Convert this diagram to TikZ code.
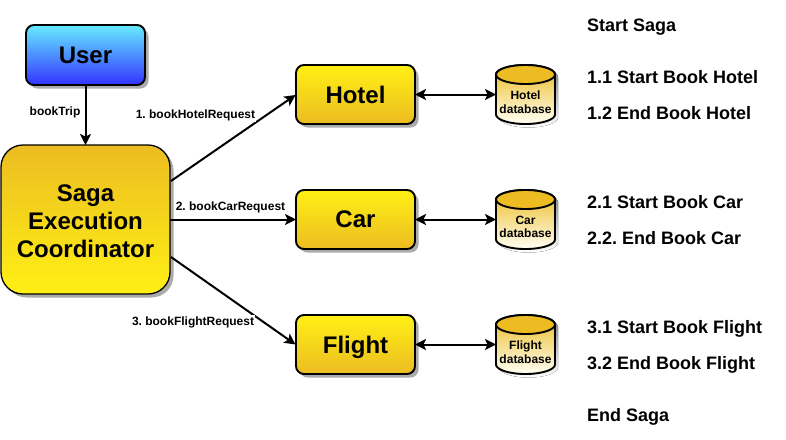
\documentclass[tikz,border=0pt]{standalone}
\usepackage{fontspec}
\setmainfont{Liberation Sans}
\usetikzlibrary{arrows.meta,shadows,calc}
\frenchspacing
\definecolor{gold}{HTML}{ECBC22}
\definecolor{lem}{HTML}{FFF014}
\definecolor{cyantop}{HTML}{66EBFF}
\definecolor{bluebot}{HTML}{3333FF}
\definecolor{cream}{HTML}{FFFEF4}
\definecolor{shade}{HTML}{ABABAB}
\tikzset{
  x=1pt,y=-1pt,
  boxbase/.style={draw=black,line width=1.9pt,outer sep=0pt,rounded corners=8pt,anchor=north west,inner sep=0pt,align=center,
    font=\fontsize{24}{28}\selectfont\bfseries,text=black,
    drop shadow={shadow xshift=3.5pt,shadow yshift=-3.5pt,fill=shade,opacity=1}},
  goldbox/.style={boxbase,top color=lem,bottom color=gold,minimum width=119pt,minimum height=59pt,text depth=0pt},
  userbox/.style={boxbase,top color=cyantop,bottom color=bluebot,minimum width=119pt,minimum height=60pt},
  sagabox/.style={boxbase,line width=1.3pt,rounded corners=22pt,top color=gold,bottom color=lem,minimum width=169pt,minimum height=149pt},
  conn/.style={draw=black,line width=2pt,-{Stealth[length=11pt,width=11pt,inset=2.5pt]}},
  biconn/.style={draw=black,line width=2pt,{Stealth[length=11pt,width=11pt,inset=2.5pt]}-{Stealth[length=11pt,width=11pt,inset=2.5pt]}},
  lab/.style={font=\fontsize{12}{14}\selectfont\bfseries,text=black,inner sep=0pt,fill=white,inner xsep=1pt,inner ysep=1pt},
  dblab/.style={font=\fontsize{12}{14}\selectfont\bfseries,text=black,align=center,inner sep=0pt},
  side/.style={font=\fontsize{18}{20}\selectfont\bfseries,text=black,anchor=base west,inner sep=0pt},
  dbshape/.style={minimum width=59pt,minimum height=59pt,anchor=north west,inner sep=0pt,outer sep=0pt},
}
\newcommand{\dbcyl}[3]{%
  \node[dbshape] (#1) at (496,#2) {};
  \fill[shade] (499,#2+12) arc[x radius=29.5,y radius=10,start angle=180,end angle=360] -- (558,#2+52.5) arc[x radius=29.5,y radius=10,start angle=0,end angle=180] -- cycle;
  \path[top color=gold,bottom color=cream,draw=black,line width=1.9pt]
    (496,#2+9.5) arc[x radius=29.5,y radius=9.5,start angle=180,end angle=360] -- (555,#2+49.5) arc[x radius=29.5,y radius=9.5,start angle=0,end angle=180] -- cycle;
  \path[fill=gold,draw=black,line width=1.9pt] (525.5,#2+9.5) ellipse[x radius=29.5,y radius=9.5];
  \node[dblab] at (525.5,#2+37) {#3\\[-0.5pt]database};
}
\begin{document}
\begin{tikzpicture}
\useasboundingbox (0,0) rectangle (786,439);
\fill[white] (0,0) rectangle (786,439);
\node[userbox] (user) at (26,25) {User};
\node[sagabox] (sec) at (1,145) {\rule{0pt}{21pt}Saga\\Execution\\Coordinator};
\node[goldbox] (hotel) at (296,65) {Hotel};
\node[goldbox] (car) at (296,190) {Car};
\node[goldbox] (flight) at (296,315) {Flight};
\dbcyl{hdb}{65}{Hotel}
\dbcyl{cdb}{190}{Car}
\dbcyl{fdb}{315}{Flight}
\coordinate (s1) at (171,181);
\coordinate (s3) at (171,257);
\coordinate (hw) at (295.5,95);
\coordinate (fw) at (295.5,344.5);
\path[conn] (user.south) -- (user.south |- sec.north);
\path[conn] (s1) -- (hw);
\path[conn] (sec.east |- car.west) -- (car.west);
\path[conn] (s3) -- (fw);
\path[biconn] (hotel.east) -- (hdb.west);
\path[biconn] (car.east) -- (cdb.west);
\path[biconn] (flight.east) -- (fdb.west);
\node[lab] (l0) at (55,112) {bookTrip};
\node[lab] (l1) at (195.5,115) {1. bookHotelRequest};
\node[lab] (l2) at (230.5,207) {2. bookCarRequest};
\node[lab] (l3) at (193,322) {3. bookFlightRequest};
\node[side] (t0) at (587,31) {Start Saga};
\node[side] (t1) at (587,83) {1.1 Start Book Hotel};
\node[side] (t2) at (587,119) {1.2 End Book Hotel};
\node[side] (t3) at (587,208) {2.1 Start Book Car};
\node[side] (t4) at (587,244) {2.2. End Book Car};
\node[side] (t5) at (587,333) {3.1 Start Book Flight};
\node[side] (t6) at (587,369) {3.2 End Book Flight};
\node[side] (t7) at (587,421) {End Saga};
\end{tikzpicture}
\end{document}
